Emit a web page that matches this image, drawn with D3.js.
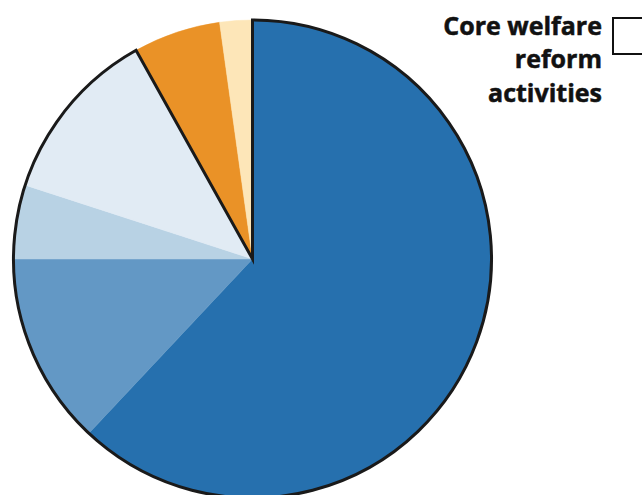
<!DOCTYPE html>
<html><head><meta charset="utf-8">
<script src="https://cdn.jsdelivr.net/npm/d3@7"></script>
<style>html,body{margin:0;padding:0;background:#fff;}svg{display:block;}</style>
</head><body>
<script>
const categories = ["Core A", "Core B", "Core C", "Core D", "Other A", "Other B"];
const values = [62.0, 13.0, 5.0, 11.9, 5.9, 2.2];
const colors = ["#2670ae", "#6398c5", "#b8d2e4", "#e1ebf4", "#ea9227", "#fde6b8"];
const groupFlags = [true, true, true, true, false, false];
const legendLabel = ["Core welfare", "reform", "activities"];

const W = 642, H = 495;
const cx = 252.5, cy = 259, R = 239;
const svg = d3.select("body").append("svg").attr("width", W).attr("height", H);
const data = categories.map((c, i) => ({c, v: values[i], col: colors[i], g: groupFlags[i]}));
const pie = d3.pie().value(d => d.v).sort(null);
const arcs = pie(data);
const arc = d3.arc().innerRadius(0).outerRadius(R);
const g = svg.append("g").attr("transform", `translate(${cx},${cy})`);
g.selectAll("path.slice").data(arcs).join("path").attr("class", "slice")
  .attr("d", arc).attr("fill", d => d.data.col).attr("stroke", d => d.data.col).attr("stroke-width", 0.5);
const grp = arcs.filter(a => a.data.g);
const gStart = d3.min(grp, a => a.startAngle), gEnd = d3.max(grp, a => a.endAngle);
g.append("path").attr("d", arc({startAngle: gStart, endAngle: gEnd}))
  .attr("fill", "none").attr("stroke", "#1a1a1a").attr("stroke-width", 3).attr("stroke-linejoin", "miter");

// legend
const lg = svg.append("g");
lg.append("rect").attr("x", 613).attr("y", 18).attr("width", 36).attr("height", 36)
  .attr("fill", "#fff").attr("stroke", "#111").attr("stroke-width", 2);
lg.selectAll("text").data(legendLabel).join("text")
  .attr("x", 602).attr("y", (d, i) => 34.5 + i * 33.7)
  .attr("text-anchor", "end")
  .attr("font-family", "'Open Sans', sans-serif").attr("font-weight", 700)
  .attr("font-size", 25).attr("fill", "#111")
  .attr("stroke", "#111").attr("stroke-width", 0.5)
  .text(d => d);
</script>
</body></html>
